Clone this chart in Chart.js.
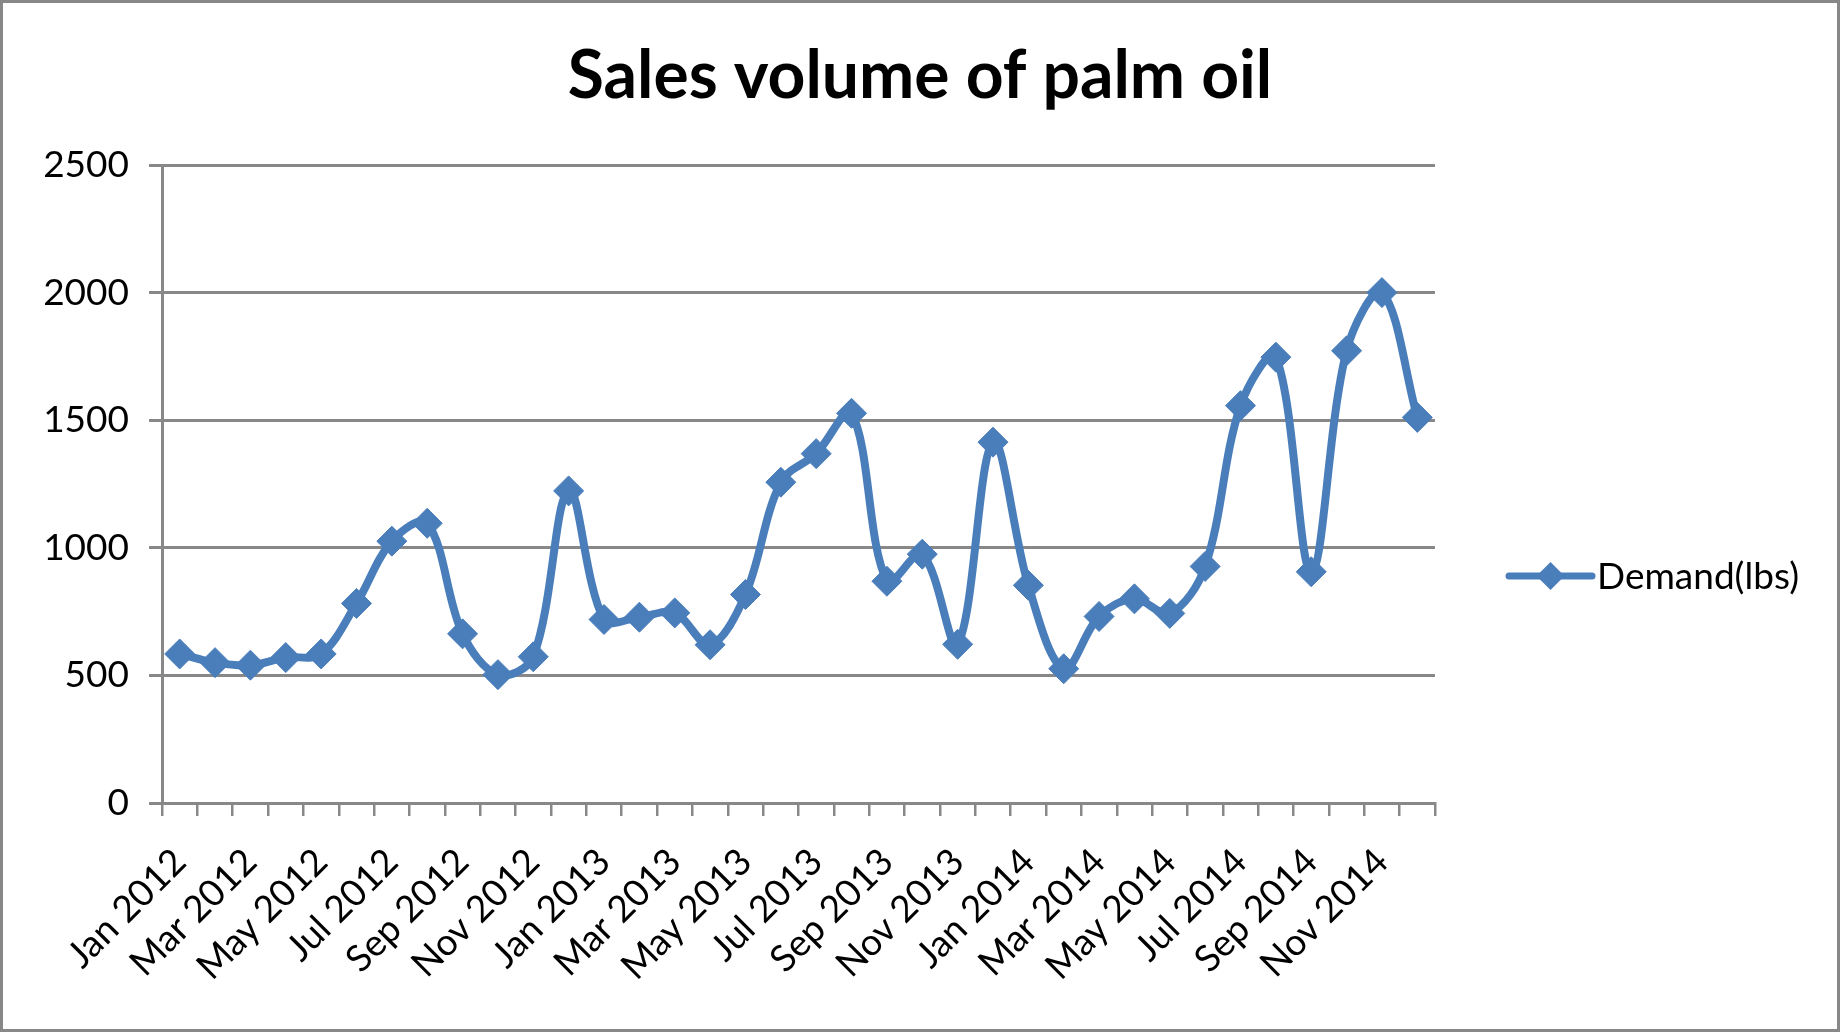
<!DOCTYPE html>
<html>
<head>
<meta charset="utf-8">
<script src="https://cdn.jsdelivr.net/npm/chart.js@4.4.1/dist/chart.umd.min.js"></script>
<style>
  html, body { margin: 0; padding: 0; background: #fff; }
  #frame {
    width: 1840px; height: 1032px; box-sizing: border-box;
    border: 3px solid #888888; position: relative;
  }
  #chart { display: block; }
</style>
</head>
<body>
<div id="frame"><canvas id="chart"></canvas></div>
<script>
// Months Jan 2012 .. Dec 2014
const months = ['Jan', 'Feb', 'Mar', 'Apr', 'May', 'Jun', 'Jul', 'Aug', 'Sep', 'Oct', 'Nov', 'Dec'];
const years = [2012, 2013, 2014];
const categories = [];
years.forEach(y => months.forEach(m => categories.push(m + ' ' + y)));

// Demand in lbs
const demand = [
    584, 550, 540, 570, 584, 782, 1026, 1096, 663, 503, 573, 1223,
    719, 728, 745, 620, 817, 1257, 1369, 1527, 869, 975, 622, 1414,
    853, 526, 731, 800, 743, 927, 1557, 1747, 906, 1772, 2000, 1511
];

const yTicks = [0, 500, 1000, 1500, 2000, 2500];

const chartTitle = 'Sales volume of palm oil';
const seriesName = 'Demand(lbs)';
const blue = '#4a7ebb';
const gridGray = '#888888';
const fontFamily = 'Lato, "Open Sans", sans-serif';

// title centred on the whole canvas, legend at the right (line with a diamond)
const sideLegend = {
    id: 'sideLegend',
    afterDraw(chart) {
        const ctx = chart.ctx;
        const ds = chart.data.datasets[0];
        ctx.save();
        ctx.fillStyle = '#000';
        ctx.font = 'bold 66px ' + fontFamily;
        ctx.textAlign = 'center';
        ctx.textBaseline = 'middle';
        ctx.fillText(chartTitle, chart.width / 2, 74);

        const y = 573;
        const x0 = 1506, x1 = 1589, xm = (x0 + x1) / 2;
        ctx.strokeStyle = ds.borderColor;
        ctx.lineWidth = 7;
        ctx.lineCap = 'round';
        ctx.beginPath();
        ctx.moveTo(x0, y);
        ctx.lineTo(x1, y);
        ctx.stroke();
        ctx.fillStyle = ds.pointBackgroundColor;
        ctx.beginPath();
        ctx.moveTo(xm, y - 14);
        ctx.lineTo(xm + 14, y);
        ctx.lineTo(xm, y + 14);
        ctx.lineTo(xm - 14, y);
        ctx.closePath();
        ctx.fill();
        ctx.fillStyle = '#000';
        ctx.font = '37px ' + fontFamily;
        ctx.textAlign = 'left';
        ctx.fillText(ds.label, 1594, y + 1);
        ctx.restore();
    }
};

const ctx = document.getElementById('chart');
ctx.width = 1834;
ctx.height = 1026;

new Chart(ctx, {
    type: 'line',
    data: {
        labels: categories,
        datasets: [{
            label: seriesName,
            data: demand,
            borderColor: blue,
            backgroundColor: blue,
            pointBackgroundColor: blue,
            pointBorderColor: blue,
            borderWidth: 8,
            pointStyle: 'rectRot',
            pointRadius: 15,
            pointBorderWidth: 1,
            tension: 0.35,
            fill: false
        }]
    },
    options: {
        responsive: false,
        animation: false,
        devicePixelRatio: 1,
        layout: { padding: { left: 0, right: 402, top: 162, bottom: 0 } },
        plugins: {
            legend: { display: false },
            tooltip: { enabled: false },
            title: { display: false }
        },
        scales: {
            x: {
                offset: true,
                grid: {
                    offset: true,
                    drawOnChartArea: false,
                    color: gridGray,
                    lineWidth: 2.5,
                    tickLength: 13
                },
                border: { color: gridGray, width: 3 },
                ticks: {
                    autoSkip: false,
                    maxRotation: 45,
                    minRotation: 45,
                    padding: 24,
                    color: '#000',
                    font: { family: fontFamily, size: 37 },
                    callback: function(value, index) {
                        return index % 2 === 0 ? categories[index] : '';
                    }
                },
                afterFit: function(scale) { scale.height = 226; }
            },
            y: {
                min: 0,
                max: 2500,
                afterBuildTicks: function(scale) {
                    scale.ticks = yTicks.map(v => ({ value: v }));
                },
                grid: {
                    color: gridGray,
                    lineWidth: 3,
                    tickLength: 13
                },
                border: { color: gridGray, width: 3 },
                ticks: {
                    padding: 20,
                    color: '#000',
                    font: { family: fontFamily, size: 37 },
                    callback: function(value) { return String(value); }
                },
                afterFit: function(scale) { scale.width = 159; }
            }
        }
    },
    plugins: [sideLegend]
});
</script>
</body>
</html>
